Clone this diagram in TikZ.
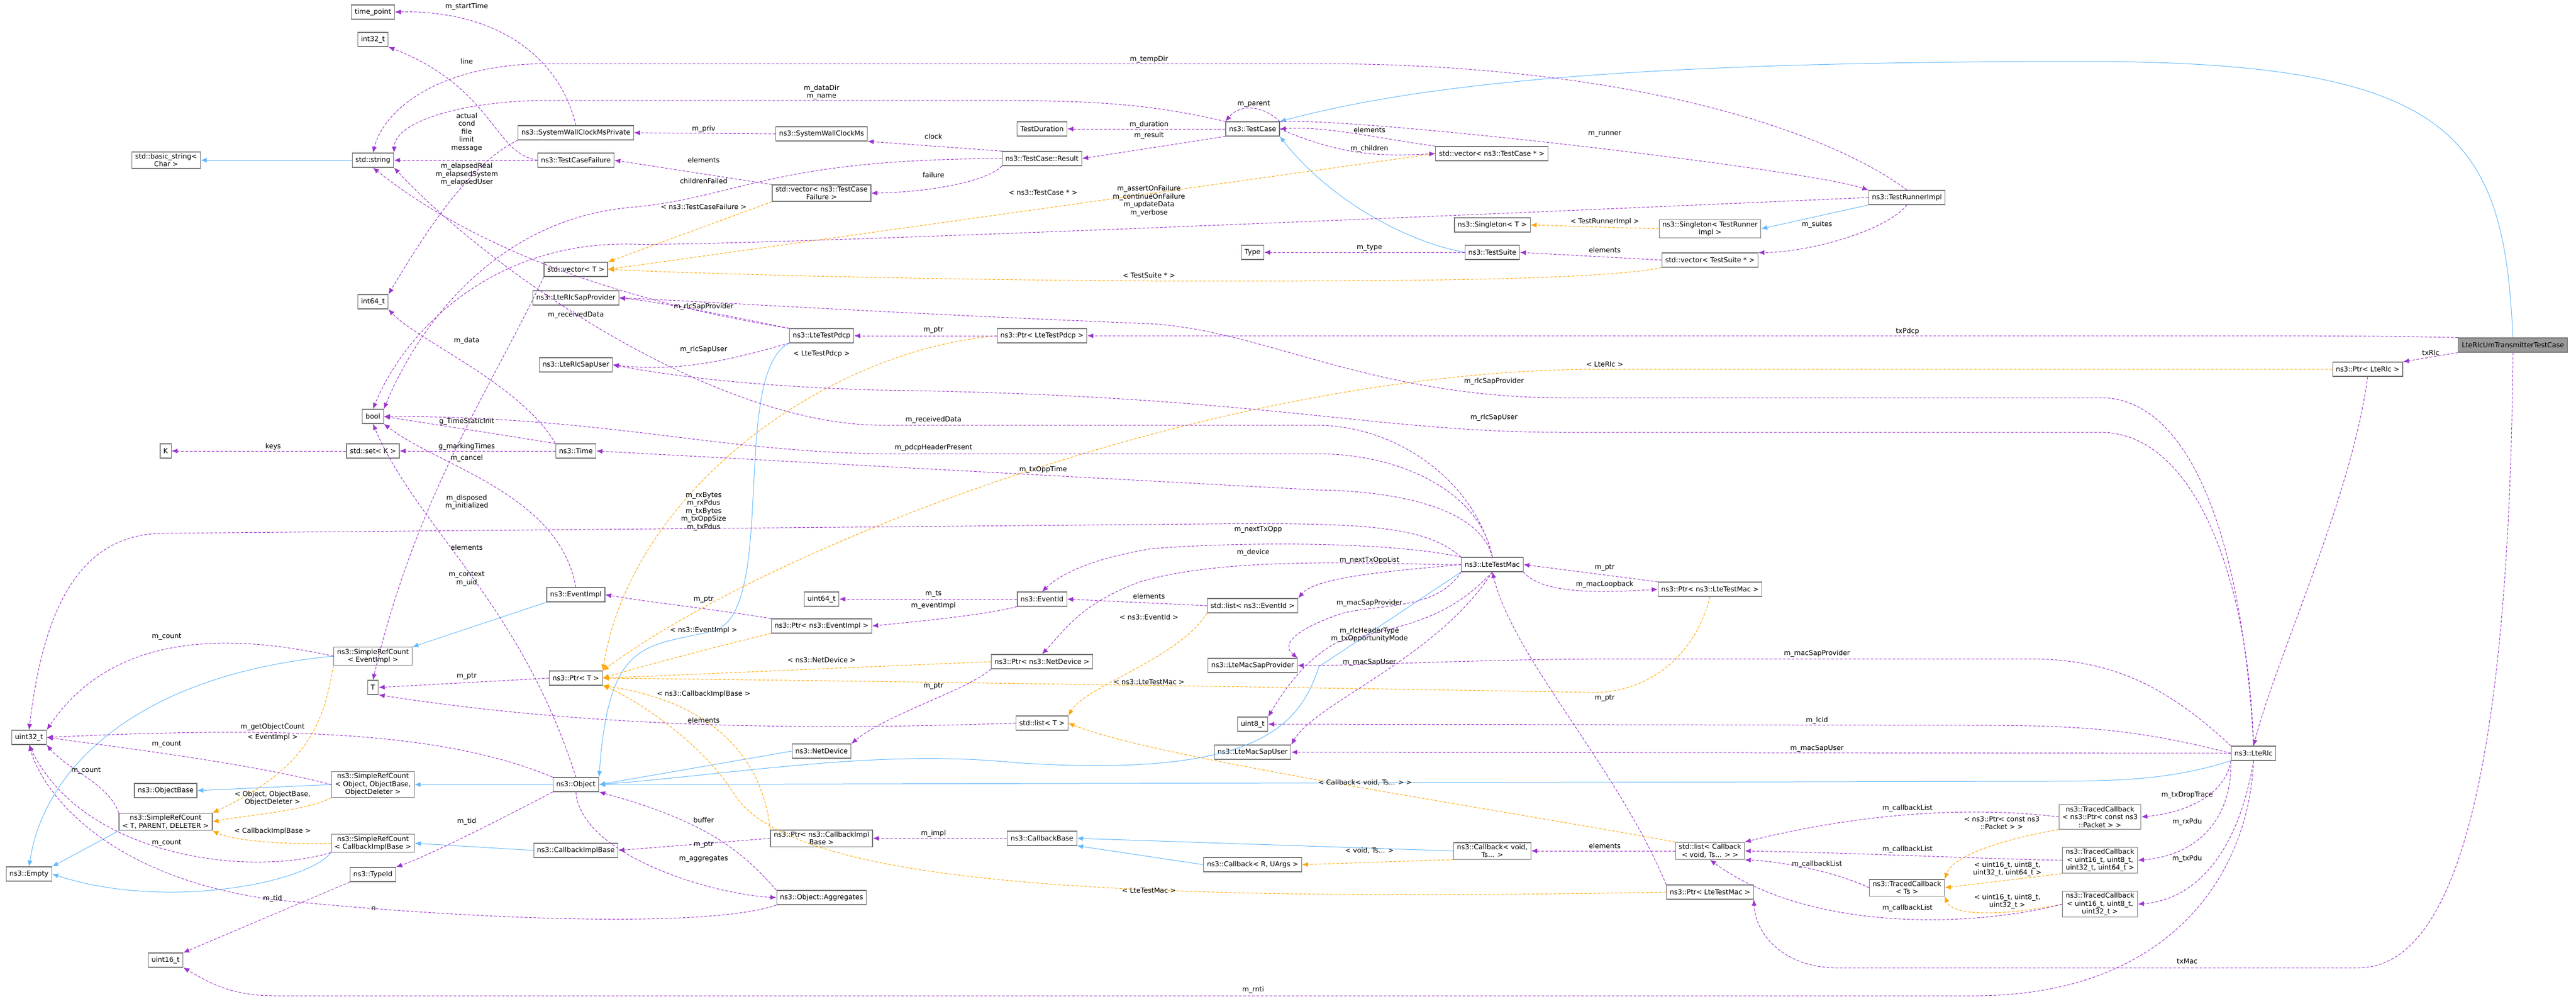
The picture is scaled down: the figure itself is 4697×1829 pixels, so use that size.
\documentclass[tikz,border=0pt]{standalone}
\usepackage{fontspec}
\setmainfont{DejaVu Sans}
\usetikzlibrary{arrows.meta}
\definecolor{memcol}{HTML}{9A32CD}
\definecolor{inhcol}{HTML}{63B8FF}
\definecolor{tplcol}{HTML}{FFA500}
\begin{document}
\begin{tikzpicture}[
		x=1pt, y=-1pt,
		font=\fontsize{12.5}{14.5}\selectfont,
		cls/.style={draw=black!55, line width=1.2pt, fill=white, align=center, minimum height=26pt, inner xsep=6pt, inner ysep=3pt},
		root/.style={cls, fill=black!40},
		lbl/.style={align=center, inner sep=1pt},
		mem/.style={draw=memcol, line width=1pt, dash pattern=on 5pt off 3pt, -{Latex[length=11pt,width=9pt]}},
		tpl/.style={draw=tplcol, line width=1pt, dash pattern=on 5pt off 3pt, -{Latex[length=11pt,width=9pt]}},
		inh/.style={draw=inhcol, line width=1pt, -{Latex[length=11pt,width=9pt]}},
	]
		\useasboundingbox (0,0) rectangle (4697,1829);
		% classes, column by column
		\node [cls] (basicstr) at (303,292) {std::basic\_string<\\Char >};
		\node [cls] (K) at (302,822) {K};
		\node [cls] (uint32) at (53,1344) {uint32\_t};
		\node [cls] (objbase) at (302,1441) {ns3::ObjectBase};
		\node [cls] (srcT) at (302,1498) {ns3::SimpleRefCount\\< T, PARENT, DELETER >};
		\node [cls] (empty) at (53,1593) {ns3::Empty};
		\node [cls] (uint16) at (302,1750) {uint16\_t};
		\node [cls] (timept) at (680,22) {time\_point};
		\node [cls] (int32) at (680,72) {int32\_t};
		\node [cls] (string) at (680,292) {std::string};
		\node [cls] (int64) at (680,550) {int64\_t};
		\node [cls] (bool) at (680,759) {bool};
		\node [cls] (setK) at (680,822) {std::set< K >};
		\node [cls] (srcev) at (680,1196) {ns3::SimpleRefCount\\< EventImpl >};
		\node [cls] (T) at (680,1253) {T};
		\node [cls] (srcobj) at (680,1430) {ns3::SimpleRefCount\\< Object, ObjectBase,\\ObjectDeleter >};
		\node [cls] (srccb) at (680,1537) {ns3::SimpleRefCount\\< CallbackImplBase >};
		\node [cls] (typeid) at (680,1594) {ns3::TypeId};
		\node [cls] (swcpriv) at (1050,242) {ns3::SystemWallClockMsPrivate};
		\node [cls] (tcfail) at (1050,292) {ns3::TestCaseFailure};
		\node [cls] (vecT) at (1050,491) {std::vector< T >};
		\node [cls] (sapprov) at (1050,543) {ns3::LteRlcSapProvider};
		\node [cls] (sapuser) at (1050,665) {ns3::LteRlcSapUser};
		\node [cls] (time) at (1050,822) {ns3::Time};
		\node [cls] (eventimpl) at (1050,1084) {ns3::EventImpl};
		\node [cls] (ptrT) at (1050,1236) {ns3::Ptr< T >};
		\node [cls] (object) at (1050,1430) {ns3::Object};
		\node [cls] (cbimpl) at (1050,1550) {ns3::CallbackImplBase};
		\node [cls] (swc) at (1498,244) {ns3::SystemWallClockMs};
		\node [cls] (vecfail) at (1498,352) {std::vector< ns3::TestCase\\Failure >};
		\node [cls] (pdcp) at (1498,612) {ns3::LteTestPdcp};
		\node [cls] (uint64) at (1498,1092) {uint64\_t};
		\node [cls] (ptrev) at (1498,1141) {ns3::Ptr< ns3::EventImpl >};
		\node [cls] (netdev) at (1498,1369) {ns3::NetDevice};
		\node [cls] (ptrcb) at (1498,1528) {ns3::Ptr< ns3::CallbackImpl\\Base >};
		\node [cls] (aggr) at (1498,1636) {ns3::Object::Aggregates};
		\node [cls] (duration) at (1900,235) {TestDuration};
		\node [cls] (result) at (1900,289) {ns3::TestCase::Result};
		\node [cls] (ptrpdcp) at (1900,612) {ns3::Ptr< LteTestPdcp >};
		\node [cls] (eventid) at (1900,1092) {ns3::EventId};
		\node [cls] (ptrnd) at (1900,1206) {ns3::Ptr< ns3::NetDevice >};
		\node [cls] (listT) at (1900,1318) {std::list< T >};
		\node [cls] (cbbase) at (1900,1528) {ns3::CallbackBase};
		\node [cls] (testcase) at (2284,235) {ns3::TestCase};
		\node [cls] (type) at (2284,460) {Type};
		\node [cls] (listev) at (2284,1104) {std::list< ns3::EventId >};
		\node [cls] (macprov) at (2284,1213) {ns3::LteMacSapProvider};
		\node [cls] (uint8) at (2284,1320) {uint8\_t};
		\node [cls] (macuser) at (2284,1371) {ns3::LteMacSapUser};
		\node [cls] (cbR) at (2284,1576) {ns3::Callback< R, UArgs >};
		\node [cls] (vectc) at (2720,280) {std::vector< ns3::TestCase * >};
		\node [cls] (singT) at (2721,410) {ns3::Singleton< T >};
		\node [cls] (suite) at (2721,460) {ns3::TestSuite};
		\node [cls] (mac) at (2721,1029) {ns3::LteTestMac};
		\node [cls] (cbvoid) at (2721,1551) {ns3::Callback< void,\\Ts... >};
		\node [cls] (singR) at (3118,417) {ns3::Singleton< TestRunner\\Impl >};
		\node [cls] (vecsuite) at (3118,474) {std::vector< TestSuite * >};
		\node [cls] (ptrmac) at (3118,1074) {ns3::Ptr< ns3::LteTestMac >};
		\node [cls] (listcb) at (3118,1551) {std::list< Callback\\< void, Ts... > >};
		\node [cls] (ptrmac2) at (3118,1626) {ns3::Ptr< LteTestMac >};
		\node [cls] (runner) at (3477,360) {ns3::TestRunnerImpl};
		\node [cls] (traced) at (3477,1618) {ns3::TracedCallback\\< Ts >};
		\node [cls] (tcpkt) at (3829,1489) {ns3::TracedCallback\\< ns3::Ptr< const ns3\\::Packet > >};
		\node [cls] (tc4) at (3829,1568) {ns3::TracedCallback\\< uint16\_t, uint8\_t,\\uint32\_t, uint64\_t >};
		\node [cls] (tc3) at (3829,1648) {ns3::TracedCallback\\< uint16\_t, uint8\_t,\\uint32\_t >};
		\node [cls] (rlc) at (4109,1373) {ns3::LteRlc};
		\node [cls] (ptrrlc) at (4317,673) {ns3::Ptr< LteRlc >};
		\node [root] (tcroot) at (4582,629) {LteRlcUmTransmitterTestCase};

		% inheritance
		\draw[inh] (string) -- (basicstr);
		\draw[inh] (tcroot.north) .. controls (4565,250) and (4480,112) .. (3800,112) .. controls (3000,112) and (2600,150) .. (testcase.north east);
		\draw[inh] (suite.west) .. controls (2560,440) and (2420,360) .. (testcase.south east);
		\draw[inh] (runner.south west) -- (singR.east);
		\draw[inh] (srcev.west) .. controls (250,1230) and (80,1400) .. (empty.north);
		\draw[inh] (eventimpl.south west) -- (srcev.north east);
		\draw[inh] (srcobj.west) -- (objbase.east);
		\draw[inh] (object.west) -- (srcobj.east);
		\draw[inh] (srcT.south west) -- (empty.north east);
		\draw[inh] (srccb.south west) .. controls (560,1610) and (300,1660) .. (empty.east);
		\draw[inh] (cbimpl.west) -- (srccb.east);
		\draw[inh] (pdcp.south west) .. controls (1330,680) and (1420,1120) .. (1300,1150) .. controls (1180,1180) and (1110,1160) .. (object.north east);
		\draw[inh] (netdev.west) -- (object.east);
		\draw[inh] (mac.south west) -- (2405,1215) .. controls (2370,1320) and (2300,1420) .. (1850,1390) .. controls (1600,1365) and (1350,1410) .. (object.east);
		\draw[inh] (rlc.south west) .. controls (3950,1424) and (3850,1424) .. (3700,1424) -- (object.east);
		\draw[inh] (cbvoid.west) -- (cbbase.east);
		\draw[inh] (cbR.west) -- (cbbase.south east);

		% template instances
		\draw[tpl] (vecfail.south west) -- (vecT.north east);
		\draw[tpl] (vectc.west) -- (vecT.east);
		\draw[tpl] (vecsuite.south west) .. controls (2900,515) and (2400,512) .. (2095,512) .. controls (1700,510) and (1300,500) .. (vecT.east);
		\draw[tpl] (singR.west) -- (singT.east);
		\draw[tpl] (srcev.south west) .. controls (590,1320) and (560,1400) .. (srcT.north east);
		\draw[tpl] (srcobj.south west) .. controls (550,1480) and (450,1485) .. (srcT.east);
		\draw[tpl] (srccb.west) .. controls (500,1540) and (420,1530) .. (srcT.south east);
		\draw[tpl] (ptrpdcp.west) .. controls (1500,640) and (1150,900) .. (ptrT.north east);
		\draw[tpl] (ptrrlc.west) -- (2900,673) .. controls (2200,680) and (1400,1000) .. (ptrT.north east);
		\draw[tpl] (ptrev.south west) .. controls (1300,1180) and (1150,1220) .. (ptrT.east);
		\draw[tpl] (ptrnd.west) -- (ptrT.east);
		\draw[tpl] (ptrmac.south) .. controls (3090,1200) and (3000,1265) .. (2900,1262) .. controls (2500,1255) and (1500,1240) .. (ptrT.east);
		\draw[tpl] (ptrcb.north west) .. controls (1390,1380) and (1300,1280) .. (ptrT.south east);
		\draw[tpl] (ptrmac2.west) .. controls (2000,1645) and (1450,1610) .. (1340,1450) .. controls (1280,1350) and (1150,1270) .. (ptrT.south east);
		\draw[tpl] (listev.south west) .. controls (2150,1200) and (1980,1250) .. (listT.north east);
		\draw[tpl] (listcb.north west) .. controls (2700,1470) and (2100,1380) .. (listT.east);
		\draw[tpl] (cbvoid.south west) -- (cbR.east);
		\draw[tpl] (tcpkt.south west) .. controls (3650,1530) and (3560,1560) .. (traced.north east);
		\draw[tpl] (tc4.south west) -- (traced.east);
		\draw[tpl] (tc3.west) .. controls (3650,1670) and (3560,1670) .. (traced.south east);

		% members
		\draw[mem] (swcpriv.north) .. controls (1020,100) and (900,18) .. (timept.east);
		\draw[mem] (tcfail.west) .. controls (900,280) and (900,160) .. (int32.south east);
		\draw[mem] (tcfail.west) -- (string.east);
		\draw[mem] (testcase.north west) .. controls (2100,190) and (2000,183) .. (1800,183) -- (1000,183) .. controls (850,183) and (720,220) .. (string.north east);
		\draw[mem] (runner.north) .. controls (3350,250) and (3000,116) .. (2400,116) -- (1000,116) .. controls (800,116) and (700,200) .. (string.north);
		\draw[mem] (swcpriv.south west) .. controls (850,300) and (760,450) .. (int64.north east);
		\draw[mem] (time.north west) .. controls (950,700) and (760,620) .. (int64.south east);
		\draw[mem] (swc.west) -- (swcpriv.east);
		\draw[mem] (result.north west) -- (swc.south east);
		\draw[mem] (vecfail.north west) -- (tcfail.east);
		\draw[mem] (result.west) .. controls (1400,290) and (1350,360) .. (1150,378) .. controls (900,400) and (760,600) .. (bool.north east);
		\draw[mem] (result.south west) .. controls (1800,330) and (1700,350) .. (vecfail.east);
		\draw[mem] (testcase.west) -- (duration.east);
		\draw[mem] (testcase.south west) -- (result.east);
		\draw[mem] (testcase.north east) .. controls (2300,190) and (2260,190) .. (testcase.north west);
		\draw[mem] (testcase.east) .. controls (2450,285) and (2520,285) .. (vectc.west);
		\draw[mem] (vectc.north west) .. controls (2500,250) and (2420,230) .. (testcase.east);
		\draw[mem] (testcase.north east) .. controls (2500,215) and (3300,310) .. (runner.north west);
		\draw[mem] (runner.west) .. controls (2500,400) and (1300,450) .. (1150,445) .. controls (900,440) and (740,600) .. (bool.north);
		\draw[mem] (runner.south) .. controls (3440,420) and (3300,460) .. (vecsuite.north east);
		\draw[mem] (vecsuite.west) -- (suite.east);
		\draw[mem] (suite.west) -- (type.east);
		\draw[mem] (tcroot.north west) .. controls (4350,612) and (4200,612) .. (4000,612) -- (ptrpdcp.east);
		\draw[mem] (tcroot.south west) -- (ptrrlc.north east);
		\draw[mem] (tcroot.south) .. controls (4575,1400) and (4480,1764) .. (4300,1764) -- (3350,1764) .. controls (3250,1764) and (3200,1700) .. (ptrmac2.south east);
		\draw[mem] (ptrpdcp.west) -- (pdcp.east);
		\draw[mem] (pdcp.north west) .. controls (1300,570) and (1200,550) .. (sapprov.east);
		\draw[mem] (pdcp.south west) .. controls (1350,650) and (1250,680) .. (sapuser.east);
		\draw[mem] (pdcp.north west) .. controls (1200,560) and (900,480) .. (string.south);
		\draw[mem] (rlc.north) .. controls (4090,1000) and (4000,725) .. (3830,725) -- (2850,725) .. controls (2500,725) and (2300,600) .. (2095,590) .. controls (1600,570) and (1300,550) .. (sapprov.east);
		\draw[mem] (rlc.north) .. controls (4100,1050) and (4000,788) .. (3830,788) -- (2850,788) .. controls (2500,788) and (2300,720) .. (1600,711) .. controls (1400,705) and (1250,690) .. (sapuser.east);
		\draw[mem] (mac.north) .. controls (2690,880) and (2550,775) .. (2400,775) -- (1600,775) .. controls (1300,770) and (900,500) .. (string.south east);
		\draw[mem] (mac.north) .. controls (2700,900) and (2560,827) .. (2400,827) -- (1600,827) .. controls (1300,822) and (1100,759) .. (bool.east);
		\draw[mem] (mac.north) .. controls (2700,930) and (2560,895) .. (2400,893) -- (time.east);
		\draw[mem] (mac.north west) .. controls (2600,960) and (2500,952) .. (2200,955) -- (300,972) .. controls (150,972) and (80,1100) .. (uint32.north);
		\draw[mem] (mac.north west) .. controls (2550,990) and (2300,985) .. (2100,1000) .. controls (1980,1020) and (1930,1050) .. (eventid.north);
		\draw[mem] (mac.west) .. controls (2550,1030) and (2250,1010) .. (2080,1060) .. controls (1970,1100) and (1940,1150) .. (ptrnd.north);
		\draw[mem] (mac.west) .. controls (2550,1040) and (2400,1050) .. (listev.north east);
		\draw[mem] (mac.south east) .. controls (2810,1080) and (2900,1082) .. (ptrmac.west);
		\draw[mem] (ptrmac.north west) -- (mac.east);
		\draw[mem] (mac.south west) .. controls (2620,1110) and (2530,1100) .. (2450,1117) .. controls (2380,1140) and (2330,1170) .. (macprov.north east);
		\draw[mem] (mac.south) .. controls (2640,1130) and (2560,1140) .. (2440,1170) .. controls (2380,1200) and (2340,1260) .. (uint8.north east);
		\draw[mem] (mac.south) .. controls (2620,1200) and (2400,1280) .. (macuser.north east);
		\draw[mem] (ptrmac2.north west) .. controls (2950,1400) and (2760,1200) .. (mac.south);
		\draw[mem] (rlc.north west) .. controls (3950,1250) and (3850,1201) .. (3700,1201) -- (2960,1201) .. controls (2700,1201) and (2500,1213) .. (macprov.east);
		\draw[mem] (rlc.west) .. controls (3900,1330) and (3800,1322) .. (3600,1322) -- (uint8.east);
		\draw[mem] (rlc.west) -- (macuser.east);
		\draw[mem] (rlc.south) .. controls (4100,1600) and (3950,1815) .. (3600,1815) -- (500,1815) .. controls (420,1815) and (380,1790) .. (uint16.south east);
		\draw[mem] (rlc.south west) .. controls (4060,1440) and (4000,1480) .. (tcpkt.east);
		\draw[mem] (rlc.south west) .. controls (4070,1500) and (4000,1560) .. (tc4.east);
		\draw[mem] (rlc.south) .. controls (4080,1560) and (4000,1640) .. (tc3.east);
		\draw[mem] (ptrrlc.south) .. controls (4290,900) and (4150,1200) .. (rlc.north);
		\draw[mem] (eventid.west) -- (uint64.east);
		\draw[mem] (eventid.south west) .. controls (1800,1120) and (1700,1130) .. (ptrev.east);
		\draw[mem] (listev.west) -- (eventid.east);
		\draw[mem] (ptrnd.south west) .. controls (1760,1260) and (1620,1300) .. (netdev.north east);
		\draw[mem] (ptrev.north west) .. controls (1300,1110) and (1200,1100) .. (eventimpl.east);
		\draw[mem] (eventimpl.north) .. controls (1020,900) and (800,850) .. (bool.south east);
		\draw[mem] (time.north west) .. controls (900,790) and (800,775) .. (bool.east);
		\draw[mem] (time.west) -- (setK.east);
		\draw[mem] (setK.west) -- (K.east);
		\draw[mem] (object.north) .. controls (950,1100) and (760,960) .. (bool.south);
		\draw[mem] (listT.west) .. controls (1500,1330) and (1100,1330) .. (T.south east);
		\draw[mem] (vecT.south west) .. controls (900,700) and (760,900) .. (T.north);
		\draw[mem] (ptrT.west) -- (T.east);
		\draw[mem] (srcev.west) .. controls (400,1150) and (200,1160) .. (uint32.north east);
		\draw[mem] (srcobj.west) .. controls (450,1390) and (200,1360) .. (uint32.east);
		\draw[mem] (srcT.north west) .. controls (200,1430) and (120,1400) .. (uint32.south east);
		\draw[mem] (srccb.south west) .. controls (450,1600) and (150,1560) .. (uint32.south);
		\draw[mem] (object.north west) .. controls (800,1330) and (500,1325) .. (uint32.east);
		\draw[mem] (object.south west) .. controls (900,1500) and (780,1560) .. (typeid.north east);
		\draw[mem] (typeid.south west) -- (uint16.north east);
		\draw[mem] (object.south) .. controls (1060,1560) and (1300,1630) .. (aggr.west);
		\draw[mem] (aggr.north west) .. controls (1360,1560) and (1300,1500) .. (object.south east);
		\draw[mem] (aggr.south west) .. controls (1300,1690) and (900,1680) .. (500,1640) .. controls (200,1600) and (80,1450) .. (uint32.south);
		\draw[mem] (ptrcb.west) -- (cbimpl.east);
		\draw[mem] (cbbase.west) -- (ptrcb.east);
		\draw[mem] (listcb.west) -- (cbvoid.east);
		\draw[mem] (traced.west) .. controls (3350,1590) and (3250,1570) .. (listcb.south east);
		\draw[mem] (tcpkt.west) .. controls (3600,1470) and (3400,1480) .. (listcb.north east);
		\draw[mem] (tc4.west) .. controls (3600,1565) and (3400,1555) .. (listcb.east);
		\draw[mem] (tc3.west) .. controls (3600,1690) and (3300,1700) .. (listcb.south);

		% edge labels
		\node [lbl] (lStart) at (851,12) {m\_startTime};
		\node [lbl] (lLine) at (851,112) {line};
		\node [lbl] (lFail) at (851,241) {actual\\cond\\file\\limit\\message};
		\node [lbl] (lElapsed) at (851,318) {m\_elapsedReal\\m\_elapsedSystem\\m\_elapsedUser};
		\node [lbl] (lTempDir) at (2095,108) {m\_tempDir};
		\node [lbl] (lDataDir) at (1498,168) {m\_dataDir\\m\_name};
		\node [lbl] (lParent) at (2286,190) {m\_parent};
		\node [lbl] (lPriv) at (1283,235) {m\_priv};
		\node [lbl] (lDuration) at (2095,227) {m\_duration};
		\node [lbl] (lResult) at (2095,247) {m\_result};
		\node [lbl] (lClock) at (1702,249) {clock};
		\node [lbl] (lFailElem) at (1283,292) {elements};
		\node [lbl] (lChildFail) at (1283,330) {childrenFailed};
		\node [lbl] (lFailure) at (1702,319) {failure};
		\node [lbl] (lTcPtr) at (1902,351) {< ns3::TestCase * >};
		\node [lbl] (lAssert) at (2095,366) {m\_assertOnFailure\\m\_continueOnFailure\\m\_updateData\\m\_verbose};
		\node [lbl] (lTcFailT) at (1283,377) {< ns3::TestCaseFailure >};
		\node [lbl] (lSuiteT) at (2095,502) {< TestSuite * >};
		\node [lbl] (lTcElem) at (2497,237) {elements};
		\node [lbl] (lChildren) at (2497,271) {m\_children};
		\node [lbl] (lRunner) at (2926,244) {m\_runner};
		\node [lbl] (lRunnerT) at (2926,404) {< TestRunnerImpl >};
		\node [lbl] (lSuites) at (3313,409) {m\_suites};
		\node [lbl] (lType) at (2497,452) {m\_type};
		\node [lbl] (lSuiteElem) at (2926,456) {elements};
		\node [lbl] (lTxPdcp) at (3478,604) {txPdcp};
		\node [lbl] (lTxRlc) at (4432,643) {txRlc};
		\node [lbl] (lTxMac) at (3988,1752) {txMac};
		\node [lbl] (lData) at (851,621) {m\_data};
		\node [lbl] (lRecv1) at (1050,574) {m\_receivedData};
		\node [lbl] (lSapProv1) at (1283,559) {m\_rlcSapProvider};
		\node [lbl] (lSapUser1) at (1283,637) {m\_rlcSapUser};
		\node [lbl] (lPdcpPtr) at (1702,602) {m\_ptr};
		\node [lbl] (lPdcpT) at (1498,645) {< LteTestPdcp >};
		\node [lbl] (lRlcT) at (2926,664) {< LteRlc >};
		\node [lbl] (lSapProv2) at (2724,695) {m\_rlcSapProvider};
		\node [lbl] (lSapUser2) at (2724,761) {m\_rlcSapUser};
		\node [lbl] (lRecv2) at (1702,765) {m\_receivedData};
		\node [lbl] (lHdr) at (1702,816) {m\_pdcpHeaderPresent};
		\node [lbl] (lTxOppTime) at (1902,856) {m\_txOppTime};
		\node [lbl] (lBytes) at (1283,932) {m\_rxBytes\\m\_rxPdus\\m\_txBytes\\m\_txOppSize\\m\_txPdus};
		\node [lbl] (lNextTxOpp) at (2294,965) {m\_nextTxOpp};
		\node [lbl] (lDevice) at (2285,1007) {m\_device};
		\node [lbl] (lNextList) at (2497,1021) {m\_nextTxOppList};
		\node [lbl] (lMacPtr) at (2926,1035) {m\_ptr};
		\node [lbl] (lLoop) at (2926,1065) {m\_macLoopback};
		\node [lbl] (lMacProv1) at (2497,1099) {m\_macSapProvider};
		\node [lbl] (lHdrType) at (2497,1157) {m\_rlcHeaderType\\m\_txOpportunityMode};
		\node [lbl] (lMacUser1) at (2497,1207) {m\_macSapUser};
		\node [lbl] (lMacProv2) at (3313,1191) {m\_macSapProvider};
		\node [lbl] (lTs) at (1702,1083) {m\_ts};
		\node [lbl] (lEvImpl) at (1702,1104) {m\_eventImpl};
		\node [lbl] (lEvElem) at (2095,1087) {elements};
		\node [lbl] (lEvPtr) at (1283,1093) {m\_ptr};
		\node [lbl] (lEvIdT) at (2095,1125) {< ns3::EventId >};
		\node [lbl] (lEvImplT) at (1283,1149) {< ns3::EventImpl >};
		\node [lbl] (lNdT) at (1498,1203) {< ns3::NetDevice >};
		\node [lbl] (lMacT) at (2095,1243) {< ns3::LteTestMac >};
		\node [lbl] (lNdPtr) at (1702,1251) {m\_ptr};
		\node [lbl] (lMac2Ptr) at (2926,1273) {m\_ptr};
		\node [lbl] (lCbImplT) at (1283,1265) {< ns3::CallbackImplBase >};
		\node [lbl] (lListElem) at (1283,1313) {elements};
		\node [lbl] (lLcid) at (3313,1313) {m\_lcid};
		\node [lbl] (lMacUser2) at (3313,1364) {m\_macSapUser};
		\node [lbl] (lCbListT) at (2489,1426) {< Callback< void, Ts... > >};
		\node [lbl] (lBuffer) at (1283,1495) {buffer};
		\node [lbl] (lImpl) at (1702,1519) {m\_impl};
		\node [lbl] (lCbPtr) at (1283,1540) {m\_ptr};
		\node [lbl] (lAggr) at (1283,1566) {m\_aggregates};
		\node [lbl] (lMac2T) at (2095,1623) {< LteTestMac >};
		\node [lbl] (lRnti) at (2285,1804) {m\_rnti};
		\node [lbl] (lVoidT) at (2497,1550) {< void, Ts... >};
		\node [lbl] (lCbElem) at (2926,1542) {elements};
		\node [lbl] (lCbList1) at (3478,1473) {m\_callbackList};
		\node [lbl] (lCbList2) at (3478,1548) {m\_callbackList};
		\node [lbl] (lCbList3) at (3313,1575) {m\_callbackList};
		\node [lbl] (lCbList4) at (3478,1655) {m\_callbackList};
		\node [lbl] (lPktT) at (3650,1500) {< ns3::Ptr< const ns3\\::Packet > >};
		\node [lbl] (lU4T) at (3660,1584) {< uint16\_t, uint8\_t,\\uint32\_t, uint64\_t >};
		\node [lbl] (lU3T) at (3660,1643) {< uint16\_t, uint8\_t,\\uint32\_t >};
		\node [lbl] (lDrop) at (3988,1449) {m\_txDropTrace};
		\node [lbl] (lRxPdu) at (3988,1498) {m\_rxPdu};
		\node [lbl] (lTxPdu) at (3988,1565) {m\_txPdu};
		\node [lbl] (lTimeInit) at (851,768) {g\_TimeStaticInit};
		\node [lbl] (lMarking) at (851,814) {g\_markingTimes};
		\node [lbl] (lCancel) at (851,835) {m\_cancel};
		\node [lbl] (lKeys) at (498,814) {keys};
		\node [lbl] (lDisposed) at (851,915) {m\_disposed\\m\_initialized};
		\node [lbl] (lVecElem) at (851,998) {elements};
		\node [lbl] (lContext) at (851,1055) {m\_context\\m\_uid};
		\node [lbl] (lCount1) at (304,1161) {m\_count};
		\node [lbl] (lTPtr) at (851,1233) {m\_ptr};
		\node [lbl] (lObjCount) at (497,1325) {m\_getObjectCount};
		\node [lbl] (lEvT) at (497,1344) {< EventImpl >};
		\node [lbl] (lCount2) at (304,1357) {m\_count};
		\node [lbl] (lCount3) at (157,1405) {m\_count};
		\node [lbl] (lObjT) at (497,1455) {< Object, ObjectBase,\\ObjectDeleter >};
		\node [lbl] (lCbT) at (497,1515) {< CallbackImplBase >};
		\node [lbl] (lCount4) at (304,1537) {m\_count};
		\node [lbl] (lTid1) at (851,1497) {m\_tid};
		\node [lbl] (lTid2) at (497,1638) {m\_tid};
		\node [lbl] (lN) at (681,1656) {n};
	\end{tikzpicture}
\end{document}
